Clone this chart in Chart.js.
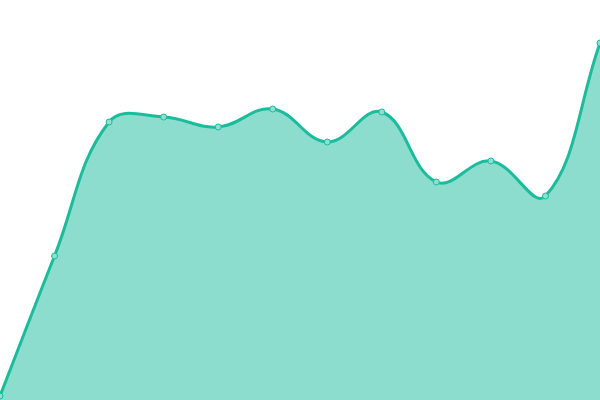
<!DOCTYPE html>
<html>
<head>
<meta charset="utf-8">
<script src="https://cdn.jsdelivr.net/npm/chart.js@4"></script>
<style>
  html, body { margin: 0; padding: 0; background: #fff; }
  #wrap { width: 600px; height: 400px; }
</style>
</head>
<body>
<div id="wrap"><canvas id="areaChart"></canvas></div>
<script>
const labels = ['1', '2', '3', '4', '5', '6', '7', '8', '9', '10', '11', '12'];
const values = [1, 36, 69.5, 70.75, 68.25, 72.75, 64.5, 72, 54.5, 59.75, 51, 89.25];
const yMin = 0;
const yMax = 100;

document.addEventListener("DOMContentLoaded", function() {
    const ctx = document.getElementById('areaChart').getContext('2d');
    new Chart(ctx, {
        type: 'line',
        data: {
            labels: labels,
            datasets: [{
                data: values,
                fill: 'origin',
                backgroundColor: 'rgba(26, 188, 156, 0.5)',
                borderColor: 'rgb(26, 188, 156)',
                borderWidth: 3,
                tension: 0.4,
                pointRadius: 3,
                pointBorderWidth: 1,
                pointBackgroundColor: 'rgb(140, 224, 207)',
                pointBorderColor: 'rgb(26, 188, 156)'
            }]
        },
        options: {
            responsive: true,
            maintainAspectRatio: false,
            animation: false,
            layout: { padding: 0, autoPadding: false },
            plugins: { legend: { display: false }, tooltip: { enabled: false } },
            scales: {
                x: { display: false, offset: false },
                y: { display: false, min: yMin, max: yMax }
            }
        }
    });
});
</script>
</body>
</html>
